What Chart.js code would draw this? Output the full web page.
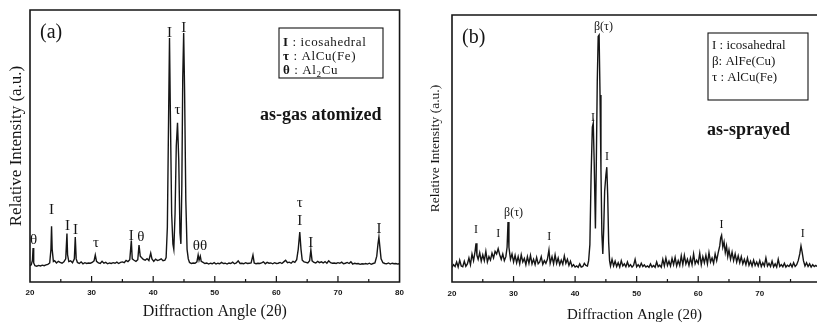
<!DOCTYPE html>
<html>
<head>
<meta charset="utf-8">
<script src="https://cdn.jsdelivr.net/npm/chart.js@4.4.1/dist/chart.umd.min.js"></script>
<style>
  html, body { margin: 0; padding: 0; background: #fff; }
  #wrap { position: relative; width: 817px; height: 327px; overflow: hidden; }
  .panel { position: absolute; top: 0; height: 327px; }
  #panelA { left: 0; width: 410px; }
  #panelB { left: 410px; width: 407px; }
</style>
</head>
<body>
<div id="wrap">
  <div class="panel" id="panelA"><canvas id="chartA" width="410" height="327"></canvas></div>
  <div class="panel" id="panelB"><canvas id="chartB" width="407" height="327"></canvas></div>
</div>
<script>
// ---- data ----
// (a) as-gas atomized
const anglesA = [
  20.0,20.2,20.4,20.5,20.6,20.8,21.1,21.4,21.7,22.0,
  22.3,22.6,22.9,23.2,23.4,23.5,23.6,23.8,24.0,24.3,
  24.6,24.9,25.2,25.5,25.8,26.0,26.1,26.3,26.6,26.9,
  27.2,27.35,27.5,27.7,28.0,28.3,28.6,28.9,29.2,29.5,
  29.8,30.1,30.4,30.6,30.8,31.1,31.4,31.7,32.0,32.3,
  32.6,32.9,33.2,33.5,33.8,34.1,34.4,34.7,35.0,35.3,
  35.6,35.9,36.2,36.45,36.6,36.9,37.2,37.5,37.7,37.9,
  38.1,38.4,38.7,39.0,39.3,39.6,39.8,40.1,40.4,40.7,
  41.0,41.3,41.6,41.9,42.1,42.3,42.5,42.65,42.8,43.0,
  43.2,43.35,43.55,43.75,43.95,44.15,44.35,44.5,44.65,44.8,
  44.95,45.1,45.3,45.5,45.7,45.9,46.2,46.5,46.8,47.1,
  47.3,47.45,47.65,47.8,48.1,48.4,48.7,49.0,49.3,49.6,
  49.9,50.2,50.5,50.8,51.1,51.4,51.7,52.0,52.3,52.6,
  52.9,53.2,53.5,53.8,54.1,54.4,54.7,55.0,55.3,55.6,
  55.9,56.2,56.4,56.7,57.0,57.3,57.6,57.9,58.2,58.5,
  58.8,59.1,59.4,59.7,60.0,60.3,60.6,60.9,61.2,61.5,
  61.8,62.1,62.4,62.7,63.0,63.3,63.55,63.8,64.0,64.2,
  64.5,64.8,65.1,65.4,65.6,65.8,66.1,66.4,66.7,67.0,
  67.3,67.6,67.9,68.2,68.5,68.8,69.1,69.4,69.7,70.0,
  70.3,70.6,70.9,71.2,71.5,71.8,72.1,72.4,72.7,73.0,
  73.3,73.6,73.9,74.2,74.5,74.8,75.1,75.4,75.7,76.0,
  76.3,76.5,76.65,76.8,77.0,77.3,77.6,77.9,78.2,78.5,
  78.8,79.1,79.4,79.7,80.0
];
const intensityA = [
  6.0,6.3,8.0,12.5,7.0,6.0,5.8,6.1,5.9,6.2,
  6.0,6.3,6.5,7.0,12.0,20.5,12.0,7.5,7.8,7.0,
  7.6,7.2,6.9,7.4,8.5,17.8,10.0,7.5,7.8,7.1,
  8.5,16.5,8.5,7.2,6.8,7.4,6.7,7.1,6.8,7.0,
  6.9,7.2,7.8,9.9,7.6,7.0,6.8,7.6,6.9,7.2,
  6.7,7.0,6.8,7.1,6.9,7.3,6.8,7.2,7.4,7.1,
  7.9,7.5,8.2,15.2,8.5,8.0,7.6,8.2,13.6,9.5,
  9.0,8.3,8.0,8.6,7.9,10.6,8.5,7.6,8.4,7.9,
  8.1,8.5,7.8,8.0,9.0,20.0,60.0,89.7,60.0,25.0,
  14.0,12.0,25.0,50.0,58.5,45.0,18.0,14.0,35.0,75.0,
  91.5,70.0,30.0,12.0,8.5,7.2,6.8,7.0,6.9,7.4,
  9.9,8.0,9.5,7.6,7.2,6.8,7.0,6.6,6.9,6.7,
  7.1,6.6,6.9,6.7,7.2,6.8,6.9,6.6,7.0,6.8,
  7.3,6.7,7.0,7.8,6.8,6.9,6.7,7.1,6.8,6.9,
  7.0,9.9,7.0,6.7,6.9,6.8,7.0,7.4,6.7,7.2,
  6.9,7.0,6.7,7.1,6.8,6.9,7.2,6.8,7.4,8.0,
  7.1,7.3,6.9,7.6,7.2,8.2,12.0,18.4,12.0,8.0,
  7.4,7.2,7.0,7.8,11.8,7.8,7.2,7.0,7.6,7.1,
  7.4,7.0,7.5,6.9,7.8,7.1,6.9,7.0,6.8,7.1,
  6.9,7.3,6.7,6.9,7.2,6.8,7.4,6.6,6.9,6.7,
  6.8,6.5,6.7,6.6,6.8,6.6,6.9,6.5,6.8,7.0,
  9.5,14.0,16.5,13.0,8.5,7.1,6.8,6.7,7.0,6.6,
  6.9,6.7,6.8,6.6,6.7
];
const peakTextA  = ['θ', 'I', 'I', 'I', 'τ', 'I', 'θ', 'I', 'τ', 'I', 'θθ', 'τ', 'I', 'I', 'I'];
const peakAngleA = [20.6, 23.5, 26.1, 27.4, 30.7, 36.45, 38.0, 42.65, 43.95, 44.95, 47.6, 63.8, 63.8, 65.6, 76.65];
const peakLevelA = [15.4, 26.5, 20.6, 19.1, 14.3, 16.9, 16.5, 91.5, 63.2, 93.5, 13.2, 29.0, 22.4, 14.3, 19.5];
const tickLabelsA = [20, 30, 40, 50, 60, 70, 80];
const minorTicksA = [25, 35, 45, 55, 65, 75];

// (b) as-sprayed
const anglesB = [
  20.0,20.25,20.5,20.75,21.0,21.25,21.5,21.75,22.0,22.25,
  22.5,22.75,23.0,23.25,23.5,23.75,23.9,24.05,24.25,24.5,
  24.75,25.0,25.25,25.5,25.75,26.0,26.25,26.5,26.75,27.0,
  27.25,27.5,27.75,28.0,28.25,28.5,28.75,28.95,29.1,29.25,
  29.5,29.75,30.0,30.25,30.5,30.75,31.0,31.25,31.5,31.75,
  32.0,32.25,32.5,32.75,33.0,33.25,33.5,33.75,34.0,34.25,
  34.5,34.75,35.0,35.25,35.5,35.75,35.95,36.25,36.5,36.75,
  37.0,37.25,37.5,37.75,38.0,38.25,38.5,38.75,39.0,39.25,
  39.5,39.75,40.0,40.25,40.5,40.75,41.0,41.25,41.5,41.75,
  42.0,42.2,42.4,42.6,42.8,42.95,43.1,43.3,43.45,43.6,
  43.75,43.9,44.05,44.2,44.35,44.5,44.65,44.8,45.0,45.15,
  45.3,45.45,45.6,45.75,46.0,46.25,46.5,46.75,47.0,47.25,
  47.5,47.75,48.0,48.25,48.5,48.75,49.0,49.25,49.5,49.75,
  50.0,50.25,50.5,50.75,51.0,51.25,51.5,51.75,52.0,52.25,
  52.5,52.75,53.0,53.25,53.5,53.75,54.0,54.25,54.5,54.75,
  55.0,55.25,55.5,55.75,56.0,56.25,56.5,56.75,57.0,57.25,
  57.5,57.75,58.0,58.25,58.5,58.75,59.0,59.25,59.5,59.75,
  60.0,60.25,60.5,60.75,61.0,61.25,61.5,61.75,62.0,62.25,
  62.5,62.75,63.0,63.25,63.5,63.65,63.8,64.0,64.2,64.4,
  64.6,64.8,65.0,65.25,65.5,65.75,66.0,66.25,66.5,66.75,
  67.0,67.25,67.5,67.75,68.0,68.25,68.5,68.75,69.0,69.25,
  69.5,69.75,70.0,70.25,70.5,70.75,71.0,71.25,71.5,71.75,
  72.0,72.25,72.5,72.75,73.0,73.25,73.5,73.75,74.0,74.25,
  74.5,74.75,75.0,75.25,75.5,75.75,76.0,76.25,76.5,76.7,
  76.9,77.1,77.35,77.6,77.85,78.1,78.35,78.6,78.85,79.1,
  79.3
];
const intensityB = [
  5.5,6.5,5.8,7.5,5.6,8.2,6.0,5.7,7.8,5.9,
  6.8,9.0,6.5,10.5,8.0,11.5,14.5,10.0,8.5,11.0,
  7.8,10.2,8.0,11.5,7.5,9.5,8.2,10.8,9.0,11.5,
  10.5,12.5,10.2,8.5,10.5,8.0,9.5,13.0,22.5,13.0,
  8.5,10.5,7.5,10.0,7.2,9.5,6.8,10.2,7.5,8.8,
  6.5,9.5,7.0,10.0,6.8,8.5,6.5,9.2,6.8,7.5,
  9.5,6.6,8.0,7.0,8.5,12.0,7.0,9.5,6.8,10.2,
  7.0,9.0,6.5,8.2,6.6,9.8,7.0,8.5,6.2,7.8,
  5.8,6.5,5.6,6.0,5.5,6.8,5.6,5.8,7.0,6.2,
  6.0,8.0,14.0,40.0,58.0,59.5,45.0,20.0,45.0,75.0,
  92.0,92.5,70.0,42.0,18.0,10.5,20.0,34.0,40.0,43.0,
  32.0,15.0,8.0,6.0,8.5,6.0,7.8,5.8,7.2,5.6,
  8.0,6.0,6.8,5.7,7.5,5.8,6.5,5.6,6.2,8.5,
  5.7,6.5,5.6,7.0,5.8,6.4,5.6,6.0,5.5,6.8,
  5.6,6.2,5.5,7.5,5.7,6.3,5.5,8.5,6.0,9.0,
  6.2,7.8,6.0,8.8,6.5,9.2,6.0,8.0,6.2,9.8,
  6.5,10.0,6.8,8.5,6.2,9.0,6.5,10.5,6.8,8.2,
  7.0,10.8,6.5,9.5,7.2,10.0,6.8,11.0,7.5,9.0,
  7.0,10.5,8.0,11.0,13.5,16.5,17.5,13.0,15.0,11.0,
  13.5,9.5,12.0,8.5,11.2,8.0,10.5,7.5,9.8,7.2,
  9.5,6.8,8.5,6.5,9.0,6.3,7.8,6.0,8.2,6.2,
  7.5,6.0,8.0,5.8,7.2,6.0,9.0,6.0,7.0,5.8,
  7.8,5.7,6.8,5.6,8.5,5.8,6.5,5.7,7.0,5.6,
  6.3,5.8,6.8,5.6,7.2,5.8,6.5,8.0,10.5,13.5,
  11.0,8.0,6.0,7.2,5.8,6.8,5.6,6.5,5.8,6.2,
  5.8
];
const peakTextB  = ['I', 'I', 'β(τ)', 'I', 'I', 'β(τ)', 'I', 'I', 'I'];
const peakAngleB = [23.9, 27.5, 30.0, 35.8, 42.9, 44.6, 45.2, 63.8, 77.0];
const peakLevelB = [19.5, 18.0, 25.8, 16.9, 61.4, 95.5, 46.8, 21.3, 18.0];
const tickLabelsB = [20, 30, 40, 50, 60, 70];
const minorTicksB = [25, 35, 45, 55, 65, 75];

const SERIF = "'Liberation Serif', 'Times New Roman', serif";
const INK = '#151515';

// draws text where "_x" makes x a subscript
function drawRich(ctx, str, x, y, size) {
  let cx = x;
  for (let i = 0; i < str.length; i++) {
    if (str[i] === '_' && i + 1 < str.length) {
      ctx.font = (size * 0.7) + 'px ' + SERIF;
      ctx.fillText(str[i + 1], cx, y + size * 0.3);
      cx += ctx.measureText(str[i + 1]).width;
      i++;
    } else {
      ctx.font = size + 'px ' + SERIF;
      ctx.fillText(str[i], cx, y);
      cx += ctx.measureText(str[i]).width;
    }
  }
}

function decorations(p) {
  return {
    id: 'decor',
    afterDatasetsDraw(chart) {
      const { ctx, chartArea: a, scales: { x, y } } = chart;
      ctx.save();
      ctx.strokeStyle = INK;
      ctx.fillStyle = INK;
      ctx.lineWidth = 1.6;
      ctx.beginPath();
      if (p.closedFrame) {
        ctx.rect(a.left, a.top, a.right - a.left, a.bottom - a.top);
      } else {
        ctx.moveTo(a.right, a.top);
        ctx.lineTo(a.left, a.top);
        ctx.lineTo(a.left, a.bottom);
        ctx.lineTo(a.right, a.bottom);
      }
      ctx.stroke();

      // inside tick marks
      ctx.lineWidth = 1.2;
      ctx.beginPath();
      p.ticks.forEach(v => {
        const px = x.getPixelForValue(v);
        if (px <= a.left + 1 || px >= a.right - 1) return;
        ctx.moveTo(px, a.bottom); ctx.lineTo(px, a.bottom - 6);
      });
      p.minor.forEach(v => {
        const px = x.getPixelForValue(v);
        if (px >= a.right - 1) return;
        ctx.moveTo(px, a.bottom); ctx.lineTo(px, a.bottom - 3);
      });
      ctx.stroke();

      // peak labels
      ctx.font = p.peakFont;
      ctx.textAlign = 'center';
      ctx.textBaseline = 'middle';
      p.peakText.forEach((t, i) => {
        ctx.fillText(t, x.getPixelForValue(p.peakAngle[i]), y.getPixelForValue(p.peakLevel[i]));
      });

      // panel tag and sample name
      ctx.textAlign = 'left';
      ctx.font = '20px ' + SERIF;
      ctx.fillText(p.tag, p.tagPos[0], p.tagPos[1]);
      ctx.font = 'bold 18px ' + SERIF;
      ctx.fillText(p.sample, p.samplePos[0], p.samplePos[1]);

      // phase key
      const k = p.key;
      ctx.lineWidth = 1.1;
      ctx.strokeRect(k.box[0], k.box[1], k.box[2], k.box[3]);
      ctx.letterSpacing = k.spacing;
      k.rows.forEach((r, i) => {
        const ry = k.firstY + i * k.step;
        ctx.font = (k.boldSymbol ? 'bold ' : '') + k.size + 'px ' + SERIF;
        ctx.fillText(r[0], k.textX, ry);
        const w = ctx.measureText(r[0]).width;
        drawRich(ctx, r[1], k.textX + w, ry, k.size);
      });
      ctx.restore();
    }
  };
}

function buildChart(id, p) {
  const points = p.angles.map((a, i) => ({ x: a, y: p.values[i] }));
  return new Chart(document.getElementById(id), {
    type: 'line',
    data: {
      datasets: [{
        data: points,
        borderColor: INK,
        borderWidth: 1.4,
        pointRadius: 0,
        tension: 0,
        fill: false
      }]
    },
    options: {
      responsive: false,
      animation: false,
      layout: { padding: p.padding },
      plugins: { legend: { display: false }, tooltip: { enabled: false } },
      scales: {
        x: {
          type: 'linear',
          min: p.xMin,
          max: p.xMax,
          grid: { display: false, drawTicks: false },
          border: { display: false },
          afterBuildTicks: s => { s.ticks = p.ticks.map(v => ({ value: v })); },
          afterFit: s => { s.height = 45; },
          ticks: {
            color: INK,
            padding: p.tickPad,
            maxRotation: 0,
            autoSkip: false,
            font: { family: "'Liberation Sans', Arial, sans-serif", weight: 'bold', size: 8 }
          },
          title: {
            display: true,
            text: 'Diffraction Angle (2θ)',
            color: INK,
            font: { family: SERIF, size: p.xTitleSize },
            padding: { top: 0, bottom: p.xTitlePad }
          }
        },
        y: {
          min: 0,
          max: 100,
          grid: { display: false },
          border: { display: false },
          ticks: { display: false },
          afterFit: s => { s.width = p.yWidth; },
          title: {
            display: true,
            text: 'Relative Intensity (a.u.)',
            color: INK,
            font: { family: SERIF, size: p.yTitleSize },
            padding: { top: p.yTitlePad, bottom: 0 }
          }
        }
      }
    },
    plugins: [decorations(p)]
  });
}

buildChart('chartA', {
  angles: anglesA, values: intensityA,
  xMin: 20, xMax: 80, ticks: tickLabelsA, minor: minorTicksA,
  peakText: peakTextA, peakAngle: peakAngleA, peakLevel: peakLevelA,
  padding: { left: 0, right: 6, top: 10, bottom: 0 },
  yWidth: 30, yTitleSize: 17, yTitlePad: 6,
  xTitleSize: 16, xTitlePad: 6, tickPad: 6,
  closedFrame: true,
  peakFont: '15px ' + SERIF,
  tag: '(a)', tagPos: [40, 33],
  sample: 'as-gas atomized', samplePos: [260, 115],
  key: {
    box: [279, 28, 104, 50], textX: 283, firstY: 43, step: 14, size: 13, boldSymbol: true, spacing: '0.6px',
    rows: [['I', ' : icosahedral'], ['τ', ' : AlCu(Fe)'], ['θ', ' : Al_2Cu']]
  }
});

buildChart('chartB', {
  angles: anglesB, values: intensityB,
  xMin: 20, xMax: 79.3, ticks: tickLabelsB, minor: minorTicksB,
  peakText: peakTextB, peakAngle: peakAngleB, peakLevel: peakLevelB,
  padding: { left: 0, right: 0, top: 15, bottom: 0 },
  yWidth: 42, yTitleSize: 13.5, yTitlePad: 17,
  xTitleSize: 15, xTitlePad: 3, tickPad: 7,
  closedFrame: false,
  peakFont: '12px ' + SERIF,
  tag: '(b)', tagPos: [52, 38],
  sample: 'as-sprayed', samplePos: [297, 130],
  key: {
    box: [298, 33, 100, 67], textX: 302, firstY: 46, step: 16, size: 13, boldSymbol: false, spacing: '0px',
    rows: [['I', ' : icosahedral'], ['β', ': AlFe(Cu)'], ['τ', ' : AlCu(Fe)']]
  }
});
</script>
</body>
</html>
